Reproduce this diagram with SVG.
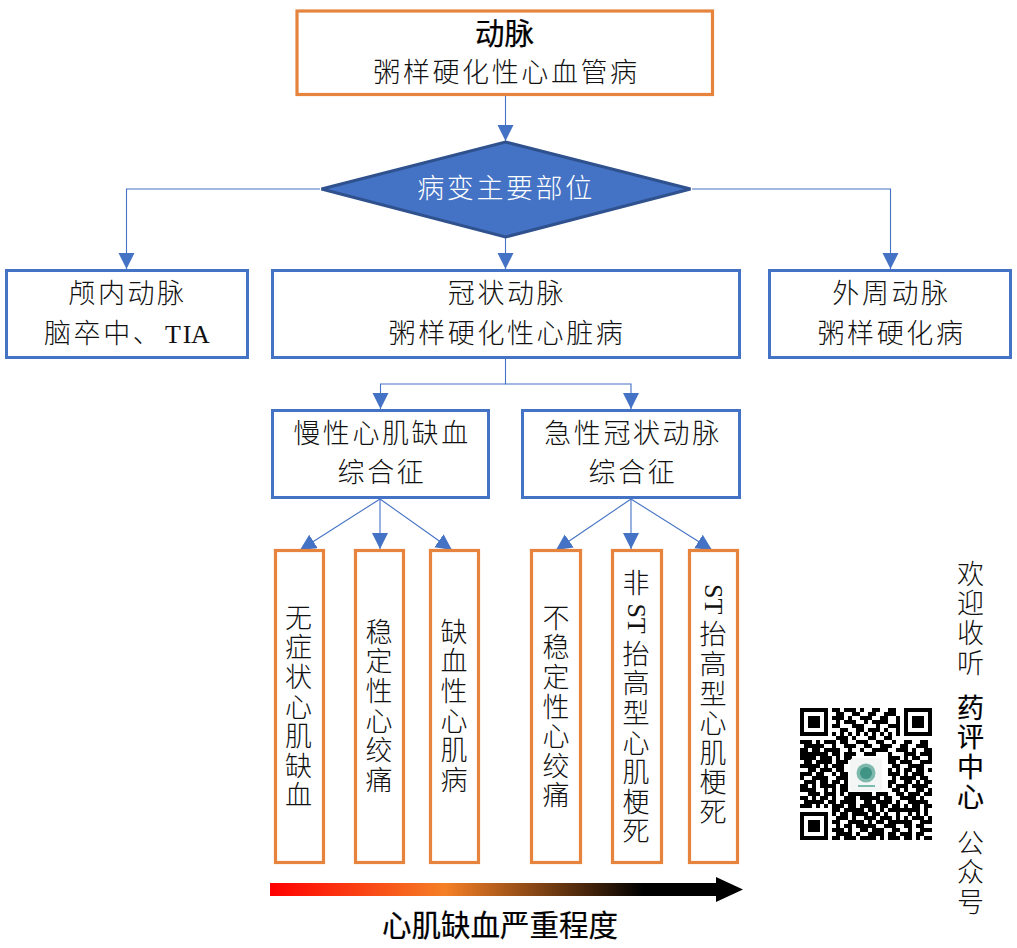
<svg xmlns="http://www.w3.org/2000/svg" width="1017" height="948" viewBox="0 0 1017 948">
<style>
text{font-family:"Noto Sans CJK SC","Liberation Sans",sans-serif;font-size:27px;letter-spacing:2.6px;font-weight:300;fill:#111;text-anchor:middle}
.v{writing-mode:vertical-rl;text-anchor:start}
.s{text-anchor:start}
.m{font-family:"Liberation Serif","Noto Sans CJK SC",serif;letter-spacing:0;font-size:26px}
.b{font-weight:400;font-size:29.500px;letter-spacing:0;fill:#000;stroke:#000;stroke-width:.2}
.bl{fill:#fff;stroke:#4472c4;stroke-width:3}
.or{fill:#fff;stroke:#e6833c;stroke-width:3.2}
.c{fill:none;stroke:#4472c4;stroke-width:1.1;marker-end:url(#a)}
</style>
<defs>
<marker id="a" markerUnits="userSpaceOnUse" markerWidth="17" markerHeight="17" refX="16" refY="8" orient="auto"><path d="M0 0L16 8L0 16Z" fill="#4472c4"/></marker>
<linearGradient id="g" gradientUnits="userSpaceOnUse" x1="270" y1="0" x2="743" y2="0"><stop offset="0" stop-color="#ff0000"/><stop offset=".37" stop-color="#f58026"/><stop offset=".79" stop-color="#000"/></linearGradient>
</defs>
<g id="connectors">
<path class="c" d="M505.5 96V141"/>
<path class="c" d="M505.5 238V269"/>
<path class="c" d="M320 189H126.5V269"/>
<path class="c" d="M692 189H890.5V269"/>
<path class="c" d="M505.5 359V384H380.5V409"/>
<path class="c" d="M505.5 384H631V409"/>
<path class="c" d="M380 499L300 550"/>
<path class="c" d="M380 499V549"/>
<path class="c" d="M380 499L452 550"/>
<path class="c" d="M631 499L556 550"/>
<path class="c" d="M631 499V549"/>
<path class="c" d="M631 499L712 550"/>
</g>
<g id="n-top"><rect class="or" x="297" y="11" width="415.500" height="83.500"/><text class="b" x="504.500" y="44">动脉</text><text x="506.500" y="82">粥样硬化性心血管病</text></g>
<g id="n-diamond"><path d="M321.500 189L505.500 142L690.500 189L505.500 237Z" fill="#4472c4" stroke="#2f528f" stroke-width="3"/><text x="506" y="198" style="fill:#fff">病变主要部位</text></g>
<g id="n-left"><rect class="bl" x="6.500" y="270.500" width="241" height="87"/><text x="127.500" y="303">颅内动脉</text><text class="s" x="44" y="343">脑卒中、</text><text class="m" x="173 187 200.500" y="343">TIA</text></g>
<g id="n-center"><rect class="bl" x="272.500" y="270.500" width="467" height="87"/><text x="507" y="303">冠状动脉</text><text x="507" y="343">粥样硬化性心脏病</text></g>
<g id="n-right"><rect class="bl" x="769.500" y="270.500" width="241" height="87"/><text x="891.500" y="303">外周动脉</text><text x="891.500" y="343">粥样硬化病</text></g>
<g id="n-chronic"><rect class="bl" x="272.500" y="410.500" width="216" height="87"/><text x="382" y="443">慢性心肌缺血</text><text x="382" y="482">综合征</text></g>
<g id="n-acute"><rect class="bl" x="522.500" y="410.500" width="217" height="87"/><text x="633" y="443">急性冠状动脉</text><text x="633" y="482">综合征</text></g>
<g id="n-v1"><rect class="or" x="275.500" y="550.500" width="48" height="312"/><text class="v" x="298.500" y="604">无症状心肌缺血</text></g>
<g id="n-v2"><rect class="or" x="355.500" y="550.500" width="48" height="312"/><text class="v" x="379" y="618">稳定性心绞痛</text></g>
<g id="n-v3"><rect class="or" x="430.500" y="550.500" width="48" height="312"/><text class="v" x="454" y="618">缺血性心肌病</text></g>
<g id="n-v4"><rect class="or" x="531.500" y="550.500" width="49" height="312"/><text class="v" x="556" y="604">不稳定性心绞痛</text></g>
<g id="n-v5"><rect class="or" x="612.500" y="550.500" width="49" height="312"/><text class="v" x="636" y="569">非<tspan class="m" y="603">ST</tspan><tspan y="640">抬高型心肌梗死</tspan></text></g>
<g id="n-v6"><rect class="or" x="689.500" y="550.500" width="48" height="312"/><text class="v" x="713" y="584"><tspan class="m">ST</tspan><tspan y="621">抬高型心肌梗死</tspan></text></g>
<g id="severity"><path d="M270 883H716V877L743 889.500L716 902V896H270Z" fill="url(#g)"/><text class="b" x="500" y="936">心肌缺血严重程度</text></g>
<g id="side">
<text class="v" x="970.500" y="560">欢迎收听</text>
<text class="v" x="970.500" y="694" style="fill:#000;font-weight:400;stroke:#000;stroke-width:.2">药评中心</text>
<text class="v" x="970.500" y="829">公众号</text>
</g>
<g id="qr">
<path transform="translate(800 708) scale(4)" fill="none" stroke="#000" stroke-width="1" d="M0 .5h7M26 .5h7M8 .5h2M11 .5h3M15 .5h1M18 .5h2M22 .5h2
M0 1.500h1M6 1.500h1M26 1.500h1M32 1.500h1M9 1.500h2M13 1.500h2M17 1.500h2M21 1.500h3
M0 2.500h1M2 2.500h3M6 2.500h1M26 2.500h1M28 2.500h3M32 2.500h1M8 2.500h3M12 2.500h1M15 2.500h3M20 2.500h2M24 2.500h1
M0 3.500h1M2 3.500h3M6 3.500h1M26 3.500h1M28 3.500h3M32 3.500h1M9 3.500h1M11 3.500h3M16 3.500h1M18 3.500h4M24 3.500h1
M0 4.500h1M2 4.500h3M6 4.500h1M26 4.500h1M28 4.500h3M32 4.500h1M8 4.500h2M13 4.500h3M19 4.500h1M22 4.500h3
M0 5.500h1M6 5.500h1M26 5.500h1M32 5.500h1M10 5.500h2M14 5.500h2M17 5.500h3M21 5.500h1M24 5.500h1
M0 6.500h7M26 6.500h7M8 6.500h1M10 6.500h1M12 6.500h1M14 6.500h1M16 6.500h1M18 6.500h1M20 6.500h1M22 6.500h1M24 6.500h1
M9 7.500h3M13 7.500h1M17 7.500h2M21 7.500h2
M0 8.500h3M4 8.500h1M6 8.500h3M10 8.500h2M14 8.500h3M19 8.500h2M23 8.500h1M26 8.500h2M30 8.500h2
M1 9.500h5M8 9.500h1M11 9.500h3M16 9.500h2M20 9.500h3M25 9.500h2M29 9.500h3
M0 10.500h2M3 10.500h2M6 10.500h4M12 10.500h1M15 10.500h1M18 10.500h4M24 10.500h3M28 10.500h1M31 10.500h2
M0 11.500h7M8 11.500h2M11 11.500h3M16 11.500h3M22 11.500h1M26 11.500h3M30 11.500h3
M0 12.500h4M5 12.500h3M9 12.500h1M11 12.500h2M22 12.500h3M26 12.500h1M28 12.500h2M32 12.500h1
M1 13.500h2M4 13.500h4M9 13.500h3M22 13.500h2M25 13.500h3M30 13.500h3
M0 14.500h5M6 14.500h1M8 14.500h3M23 14.500h2M27 14.500h4
M2 15.500h2M5 15.500h3M9 15.500h2M22 15.500h1M24 15.500h1M26 15.500h2M29 15.500h2M32 15.500h1
M0 16.500h3M4 16.500h2M8 16.500h1M10 16.500h2M22 16.500h3M26 16.500h1M28 16.500h3
M0 17.500h1M3 17.500h4M9 17.500h3M23 17.500h1M25 17.500h4M30 17.500h2
M1 18.500h3M5 18.500h2M8 18.500h2M11 18.500h1M22 18.500h2M26 18.500h2M29 18.500h1M31 18.500h2
M0 19.500h2M3 19.500h1M5 19.500h4M10 19.500h2M22 19.500h1M24 19.500h3M28 19.500h4
M0 20.500h4M6 20.500h1M8 20.500h1M10 20.500h2M23 20.500h2M26 20.500h1M29 20.500h2M32 20.500h1
M2 21.500h3M6 21.500h3M10 21.500h1M12 21.500h6M19 21.500h3M24 21.500h2M27 21.500h3M31 21.500h2
M0 22.500h2M3 22.500h1M5 22.500h2M8 22.500h1M11 22.500h3M15 22.500h5M21 22.500h2M25 22.500h4M30 22.500h1
M1 23.500h5M7 23.500h2M10 23.500h4M16 23.500h2M19 23.500h4M24 23.500h1M27 23.500h5
M0 24.500h3M4 24.500h1M6 24.500h1M8 24.500h3M12 24.500h2M15 24.500h4M20 24.500h2M23 24.500h2M26 24.500h1M28 24.500h2M31 24.500h2
M8 25.500h2M11 25.500h5M17 25.500h2M20 25.500h1M22 25.500h8M31 25.500h1
M0 26.500h7M8 26.500h1M10 26.500h2M13 26.500h4M18 26.500h2M21 26.500h1M24 26.500h1M27 26.500h1M29 26.500h1M31 26.500h1
M0 27.500h1M6 27.500h1M9 27.500h3M13 27.500h1M16 27.500h3M20 27.500h3M24 27.500h1M26 27.500h1M28 27.500h3M32 27.500h1
M0 28.500h1M2 28.500h3M6 28.500h1M8 28.500h2M12 28.500h4M17 28.500h1M19 28.500h2M22 28.500h6M30 28.500h3
M0 29.500h1M2 29.500h3M6 29.500h1M9 29.500h1M11 29.500h2M14 29.500h5M21 29.500h3M26 29.500h2M29 29.500h2
M0 30.500h1M2 30.500h3M6 30.500h1M8 30.500h3M12 30.500h1M15 30.500h2M18 30.500h3M23 30.500h2M27 30.500h1M30 30.500h3
M0 31.500h1M6 31.500h1M9 31.500h4M14 31.500h1M17 31.500h4M22 31.500h2M25 31.500h3M29 31.500h2
M0 32.500h7M8 32.500h2M11 32.500h3M15 32.500h4M20 32.500h1M22 32.500h3M26 32.500h2M29 32.500h1M31 32.500h2"/>
<rect x="850" y="758" width="32" height="33" rx="4" fill="#f4f6f5"/>
<circle cx="866" cy="773" r="9.500" fill="#7cb9ac"/>
<circle cx="866" cy="773" r="6" fill="#3f9484"/>
<rect x="858" y="785" width="17" height="2" fill="#7cbcae"/>
</g>
</svg>
